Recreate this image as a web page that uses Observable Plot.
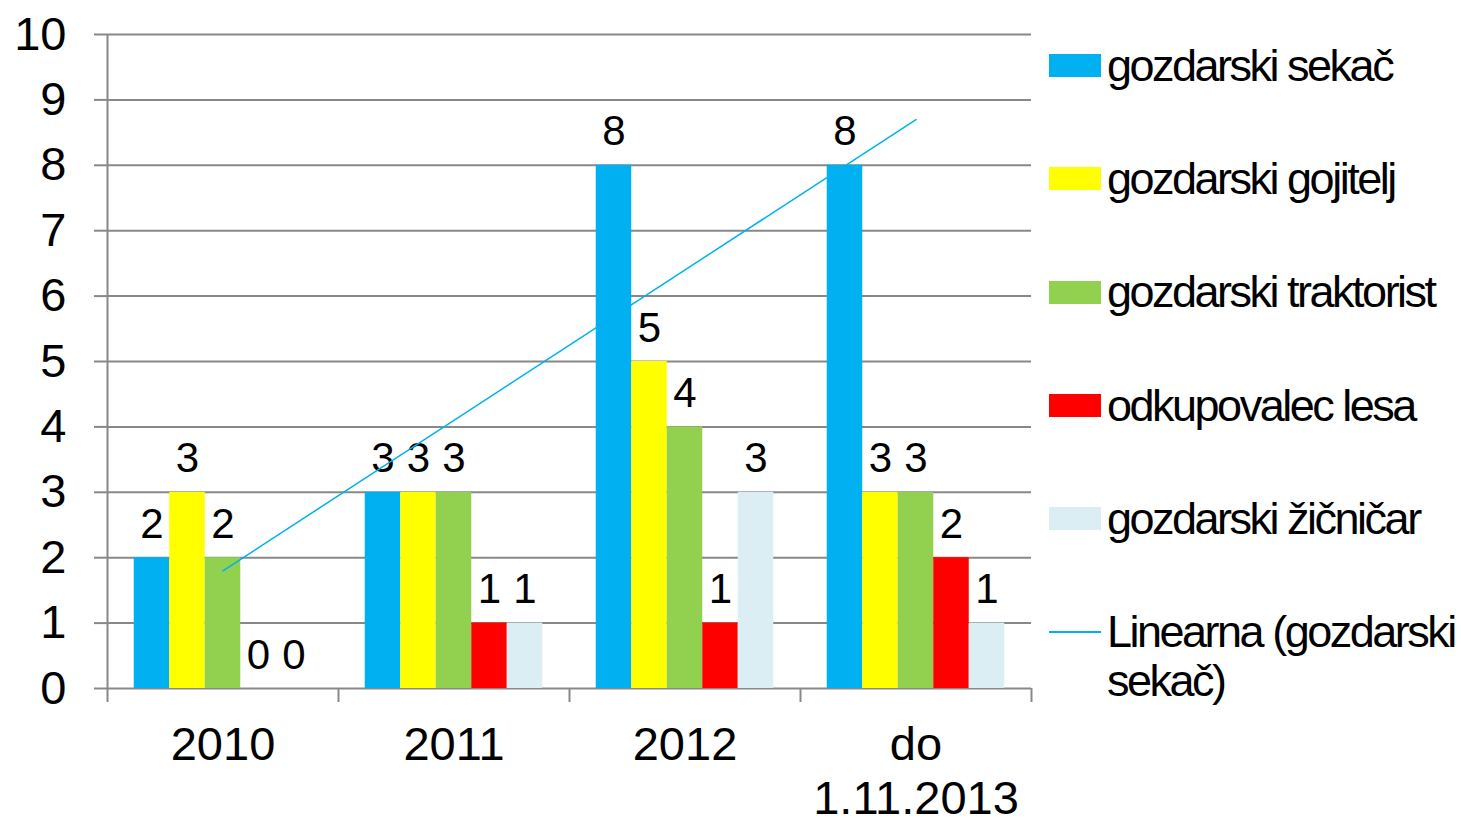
<!DOCTYPE html>
<html>
<head>
<meta charset="utf-8">
<script src="https://cdn.jsdelivr.net/npm/d3@7"></script>
<script src="https://cdn.jsdelivr.net/npm/@observablehq/plot@0.6"></script>
<style>
  html, body { margin: 0; padding: 0; background: #fff; overflow: hidden; }
  #wrap { position: relative; width: 1461px; height: 819px; font-family: "Liberation Sans", Arial, sans-serif; }
  #wrap svg { position: absolute; left: 0; top: 0; }
  .lg-sym { position: absolute; left: 1049px; width: 52px; }
  .lg-txt { position: absolute; left: 1107px; font-size: 45px; line-height: 49px; letter-spacing: -2.5px; color: #000; white-space: nowrap; }
</style>
</head>
<body>
<div id="wrap"></div>
<script>
// ---- data ----
const categories = ["2010", "2011", "2012", "do\n1.11.2013"];
const seriesNames = ["gozdarski sekač", "gozdarski gojitelj", "gozdarski traktorist", "odkupovalec lesa", "gozdarski žičničar"];
const sekac       = [2, 3, 8, 8];
const gojitelj    = [3, 3, 5, 3];
const traktorist  = [2, 3, 4, 3];
const odkupovalec = [0, 1, 1, 2];
const zicnicar    = [0, 1, 3, 1];
const seriesValues = [sekac, gojitelj, traktorist, odkupovalec, zicnicar];
const colors = ["#00B0F0", "#FFFF00", "#92D050", "#FF0000", "#DAEEF3"];
const trendLabel = "Linearna (gozdarski\nsekač)";
const trendColor = "#00B0F0";
const yTicks = [0, 1, 2, 3, 4, 5, 6, 7, 8, 9, 10];

// ---- build table ----
const barW = 0.1537;
const rows = [];
seriesValues.forEach((vals, si) => {
  vals.forEach((v, gi) => {
    const c = gi + 1 + (si - 2) * barW;
    rows.push({gi: gi + 1, cat: categories[gi], series: seriesNames[si], si, value: v, xc: c, x1: c - barW / 2, x2: c + barW / 2});
  });
});
const trendRows = sekac.map((v, gi) => ({gi: gi + 1, value: v}));
const boundaries = d3.range(categories.length + 1).map(i => i + 0.5);
const centers = categories.map((_, i) => i + 1);

const gray = "#888888";
const chart = Plot.plot({
  width: 1461,
  height: 819,
  marginLeft: 107,
  marginRight: 430,
  marginTop: 34,
  marginBottom: 131,
  style: {fontFamily: '"Liberation Sans", Arial, sans-serif', background: "white", color: "black"},
  x: {domain: [0.5, categories.length + 0.5], axis: null},
  y: {domain: [0, 10], axis: null},
  color: {domain: seriesNames, range: colors},
  marks: [
    Plot.gridY(yTicks, {stroke: gray, strokeOpacity: 1, strokeWidth: 2}),
    Plot.axisY({ticks: yTicks, label: null, tickSize: 13, tickPadding: 28, fontSize: 47, stroke: gray, strokeWidth: 2, fill: "black", tickFormat: d => String(d)}),
    Plot.ruleX([0.5], {y1: 0, y2: 10, stroke: gray, strokeWidth: 2}),
    Plot.axisX({ticks: boundaries, label: null, tickSize: 14, tickFormat: () => "", stroke: gray, strokeWidth: 2}),
    Plot.rectY(rows, {x1: "x1", x2: "x2", y: "value", fill: "series", inset: 0}),
    Plot.text(rows, {x: "xc", y: "value", text: d => String(d.value), lineAnchor: "bottom", dy: -20, fontSize: 42, fill: "black"}),
    Plot.linearRegressionY(trendRows, {x: "gi", y: "value", stroke: trendColor, strokeWidth: 1.5, ci: 0}),
    Plot.axisX({ticks: centers, label: null, tickSize: 0, tickPadding: 33, tickFormat: i => categories[i - 1], fontSize: 47, lineHeight: 1.15, fill: "black"})
  ]
});
const wrap = document.getElementById("wrap");
wrap.appendChild(chart);

// ---- legend ----
const legendItems = seriesNames.map((n, i) => ({label: n, color: colors[i], type: "rect"}));
legendItems.push({label: trendLabel, color: trendColor, type: "line"});
legendItems.forEach((it, i) => {
  const cy = 65.5 + i * 113.3;
  const sym = document.createElement("div");
  sym.className = "lg-sym";
  sym.style.background = it.color;
  if (it.type === "rect") { sym.style.height = "23px"; sym.style.top = (cy - 11.5) + "px"; }
  else { sym.style.height = "2px"; sym.style.top = (cy - 1) + "px"; }
  wrap.appendChild(sym);
  const t = document.createElement("div");
  t.className = "lg-txt";
  t.style.top = (cy - 24.7) + "px";
  it.label.split("\n").forEach((line, k) => {
    if (k) t.appendChild(document.createElement("br"));
    t.appendChild(document.createTextNode(line));
  });
  wrap.appendChild(t);
});
</script>
</body>
</html>
